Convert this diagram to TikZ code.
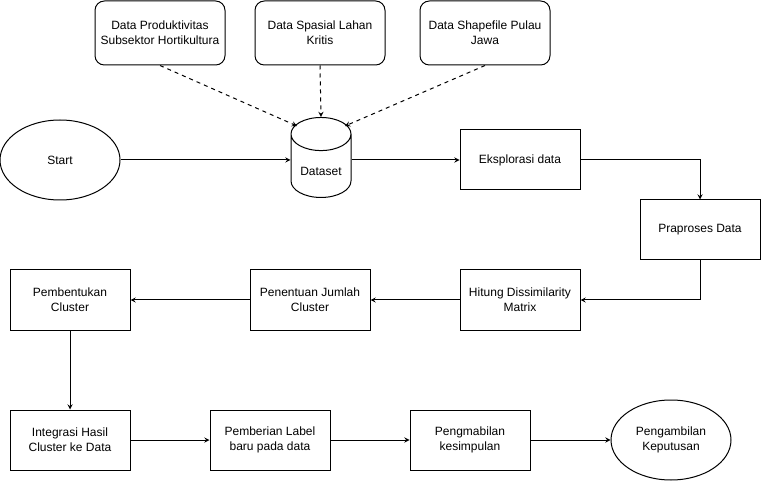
\documentclass[tikz,border=0pt]{standalone}
\usepackage{fontspec}
\setmainfont{Liberation Sans}
\usetikzlibrary{shapes.geometric,arrows,positioning}
\tikzset
{
    process/.style   = {rectangle, draw=black, line width=0.75pt, minimum width=90pt, minimum height=45pt, align=center, inner sep=0pt},
    source/.style    = {process, rounded corners=7pt, minimum width=97.5pt, minimum height=48pt},
    terminal/.style  = {ellipse, draw=black, line width=0.75pt, minimum width=90pt, minimum height=60pt, align=center, inner sep=0pt},
    datastore/.style = {cylinder, shape border rotate=90, draw=black, line width=0.75pt, minimum width=45pt, minimum height=60pt, aspect=0.8, align=center, inner sep=0pt, text height=15pt, text depth=0pt},
    arrow/.style     = {->, >=stealth, line width=0.75pt},
    dasharrow/.style = {arrow, dashed}
}

\begin{document}
\begin{tikzpicture}[x=0.75pt, y=0.75pt, font=\fontsize{9pt}{11pt}\selectfont]
   \useasboundingbox (0,0) rectangle (761,-481);

   % sumber data
   \node (prod)    [source]    at (160,-33)  {Data Produktivitas\\Subsektor Hortikultura};
   \node (spasial) [source]    at (320,-33)  {Data Spasial Lahan\\Kritis};
   \node (shp)     [source]    at (485,-33)  {Data Shapefile Pulau\\Jawa};

   % baris pertama
   \node (start)   [terminal]  at (60,-160)  {Start};
   \node (dataset) [datastore] at (321,-166) {Dataset};
   \node (eksp)    [process]   at (520,-160) {Eksplorasi data};
   \node (prap)    [process]   at (700,-230) {Praproses Data};

   % baris kedua
   \node (hitung)  [process]   at (520,-300) {Hitung Dissimilarity\\Matrix};
   \node (jumlah)  [process]   at (310,-300) {Penentuan Jumlah\\Cluster};
   \node (bentuk)  [process]   at (70,-300)  {Pembentukan\\Cluster};

   % baris ketiga
   \node (integ)   [process]   at (70,-440)  {Integrasi Hasil\\Cluster ke Data};
   \node (label)   [process]   at (270,-440) {Pemberian Label\\baru pada data};
   \node (simpul)  [process]   at (470,-440) {Pengmabilan\\kesimpulan};
   \node (putus)   [terminal]  at (671,-440) {Pengambilan\\Keputusan};

   \coordinate (dl) at ([shift=({-24, 40})]dataset);
   \coordinate (dr) at ([shift=({ 24, 40})]dataset);

   \path
      (prod.south)    edge[dasharrow]  (dl)
      (spasial.south) edge[dasharrow]  (dataset.north)
      (shp.south)     edge[dasharrow]  (dr)
      (start.east)    edge[arrow]      (start.east -| dataset.west)
      (dataset.east |- eksp.west) edge[arrow] (eksp.west)
      (hitung)        edge[arrow]      (jumlah)
      (jumlah)        edge[arrow]      (bentuk)
      (bentuk)        edge[arrow]      (integ)
      (integ)         edge[arrow]      (label)
      (label)         edge[arrow]      (simpul)
      (simpul)        edge[arrow]      (putus);

   \draw[arrow] (eksp.east) -| (prap.north);
   \draw[arrow] (prap.south) |- (hitung.east);
\end{tikzpicture}
\end{document}
